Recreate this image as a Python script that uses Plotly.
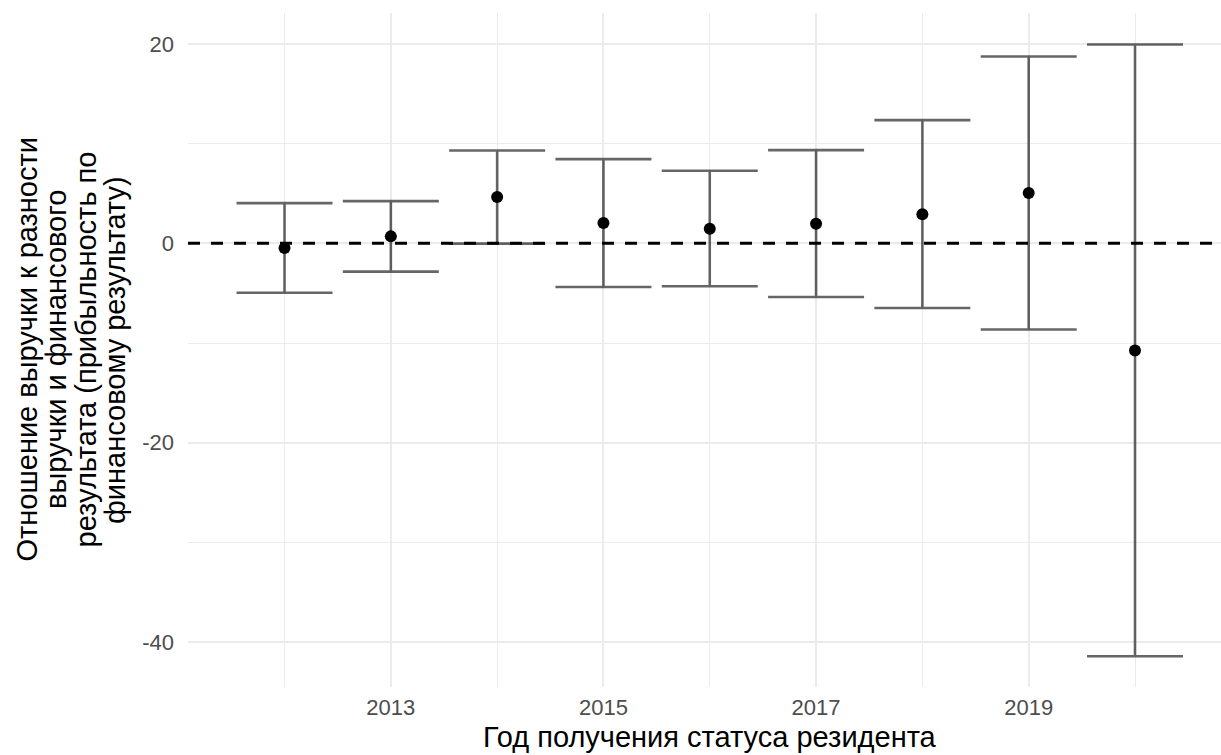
import plotly.graph_objects as go

years = [2012, 2013, 2014, 2015, 2016, 2017, 2018, 2019, 2020]
estimate = [-0.47, 0.70, 4.64, 2.04, 1.47, 1.97, 2.91, 5.04, -10.76]
ci_upper = [4.04, 4.24, 9.32, 8.45, 7.29, 9.35, 12.36, 18.75, 19.95]
ci_lower = [-4.95, -2.84, -0.03, -4.38, -4.31, -5.38, -6.48, -8.65, -41.43]

x_ticks = [2013, 2015, 2017, 2019]
x_minor = [2012, 2014, 2016, 2018, 2020]
y_ticks = [-40, -20, 0, 20]
y_minor = [-30, -10, 10]
ref_line = 0

x_title = "Год получения статуса резидента"
y_title_lines = [
    "Отношение выручки к разности",
    "выручки и финансового",
    "результата (прибыльность по",
    "финансовому результату)",
]

err_plus = [u - e for u, e in zip(ci_upper, estimate)]
err_minus = [e - l for e, l in zip(estimate, ci_lower)]

FONT = "Liberation Sans, Arial, sans-serif"
GRID = "#EBEBEB"
L, R, T, B = 188, 0, 13, 68
W, H = 1221, 755
PW, PH = W - L - R, H - T - B

fig = go.Figure()

fig.add_trace(go.Scatter(
    x=years, y=estimate, mode="markers",
    marker=dict(color="black", size=12),
    error_y=dict(type="data", symmetric=False, array=err_plus, arrayminus=err_minus,
                 color="rgba(0,0,0,0.6)", thickness=2.6, width=48),
    showlegend=False, hoverinfo="skip",
))

fig.add_hline(y=ref_line, line=dict(color="black", width=3, dash="12px,11px"), layer="above")

fig.update_layout(
    width=W, height=H,
    margin=dict(l=L, r=R, t=T, b=B),
    paper_bgcolor="white", plot_bgcolor="white",
    font=dict(family=FONT, size=22, color="#4D4D4D"),
    showlegend=False,
    xaxis=dict(
        range=[2011.092, 2020.809], tickmode="array", tickvals=x_ticks,
        ticktext=[str(v) for v in x_ticks],
        showgrid=True, gridcolor=GRID, gridwidth=2,
        minor=dict(tickvals=x_minor, showgrid=True, gridcolor=GRID, gridwidth=1.2),
        zeroline=False, showline=False, ticks="", ticklabelstandoff=5,
        tickfont=dict(size=22, color="#4D4D4D"),
    ),
    yaxis=dict(
        range=[-44.51, 23.11], tickmode="array", tickvals=y_ticks,
        ticktext=[str(v) for v in y_ticks],
        showgrid=True, gridcolor=GRID, gridwidth=2,
        minor=dict(tickvals=y_minor, showgrid=True, gridcolor=GRID, gridwidth=1.2),
        zeroline=False, showline=False, ticks="", ticklabelstandoff=13,
        tickfont=dict(size=22, color="#4D4D4D"),
    ),
)

fig.add_annotation(
    text=x_title,
    xref="paper", yref="paper", x=(710 - L) / PW, y=(H - B - 737) / PH,
    xanchor="center", yanchor="middle", showarrow=False,
    font=dict(family=FONT, size=29, color="black"),
)

line_centers_px = [26.5, 56, 85.5, 115]
for txt, cx in zip(y_title_lines, line_centers_px):
    fig.add_annotation(
        text=txt,
        xref="paper", yref="paper", x=(cx - L) / PW, y=(H - B - 350) / PH,
        xanchor="center", yanchor="middle", showarrow=False, textangle=-90,
        font=dict(family=FONT, size=29, color="black"),
    )

fig.write_html("out.html")
